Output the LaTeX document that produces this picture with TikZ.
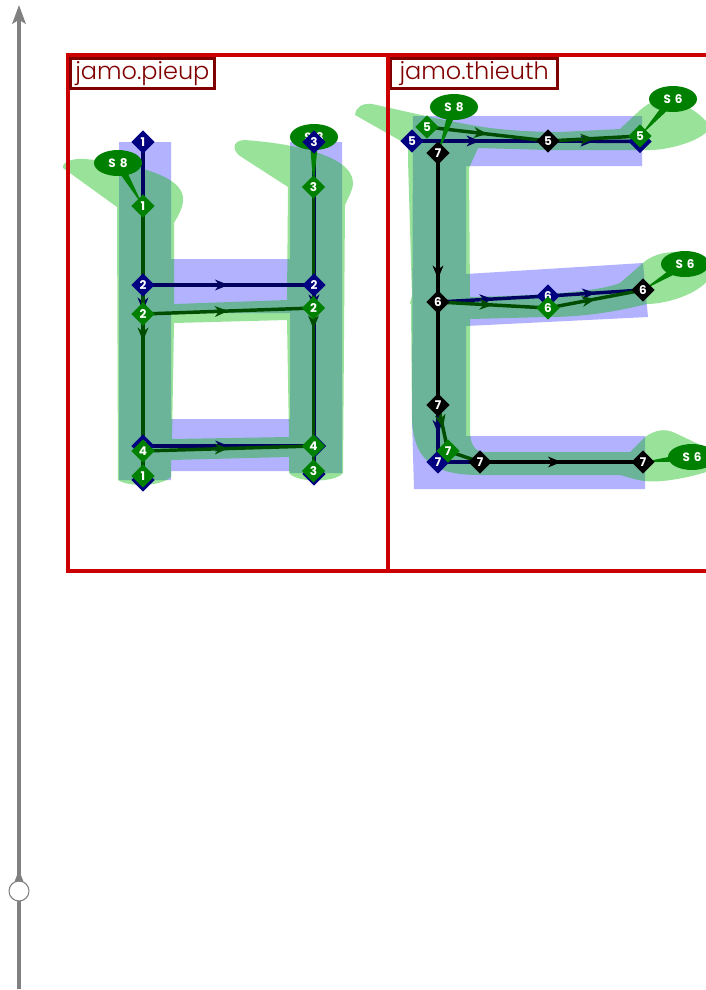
\documentclass[tikz,border=0pt]{standalone}
\usepackage{fontspec}
\setmainfont{Poppins}
\newfontfamily\titlefont{Poppins Light}
\usetikzlibrary{arrows.meta,shapes.geometric,decorations.markings,calc,backgrounds}
\definecolor{frameRed}{HTML}{CC0000}
\definecolor{titleRed}{HTML}{800000}
\definecolor{nodeBlue}{HTML}{000080}
\definecolor{nodeGreen}{HTML}{008000}
\definecolor{edgeBlue}{HTML}{000060}
\definecolor{edgeGreen}{HTML}{004D00}
\definecolor{fillGreen}{HTML}{00B600}
\definecolor{axisGray}{HTML}{808080}
\pgfdeclarelayer{fills}
\pgfdeclarelayer{edges}
\pgfsetlayers{fills,edges,main}
\newcommand{\spur}[2]{\fill[nodeGreen] (#2.center) -- ($(#1)!3.4pt!90:(#2)$) -- ($(#1)!3.4pt!-90:(#2)$) -- cycle;}
\begin{document}
\begin{tikzpicture}[x=.75pt,y=-.75pt,
  dot/.style={diamond,aspect=1,inner sep=0pt,minimum size=17.5pt,text=white,font=\bfseries\fontsize{9pt}{9pt}\selectfont},
  bdot/.style={dot,fill=nodeBlue},
  gdot/.style={dot,fill=nodeGreen},
  kdot/.style={dot,fill=black},
  sbub/.style={ellipse,fill=nodeGreen,inner sep=0pt,minimum width=36pt,minimum height=19.5pt,text=white,font=\bfseries\fontsize{9pt}{9pt}\selectfont\addfontfeature{LetterSpace=12}},
  titlebox/.style={draw=titleRed,line width=2pt,fill=white,text=titleRed,inner sep=0pt,anchor=north west,font=\titlefont\fontsize{18pt}{18pt}\selectfont},
  bfill/.style={fill=blue,fill opacity=.3,even odd rule},
  gfill/.style={fill=fillGreen,fill opacity=.4,even odd rule},
  mid/.style={postaction={decorate,decoration={markings,mark=at position .5 with {\arrow{Stealth[length=10pt,width=8pt,inset=3pt]}}}}},
  bedge/.style={draw=edgeBlue,line width=2.6pt,shorten >=-4pt,shorten <=-4pt},
  gedge/.style={draw=edgeGreen,line width=2.6pt,shorten >=-4pt,shorten <=-4pt},
  kedge/.style={draw=black,line width=2.6pt,shorten >=-4pt,shorten <=-4pt}]
\clip (0,0) rectangle (706,990);
% timeline
\coordinate (axisbot) at (19,989);
\coordinate (axistop) at (19,5);
\draw[axisGray,line width=3.4pt,-{Stealth[length=14pt,width=10pt,inset=3pt]}] (axisbot) -- (axistop);
\node[circle,draw=axisGray,fill=white,line width=.8pt,inner sep=0pt,minimum size=15pt] (marker) at (19,891) {};
\fill[axisGray] (marker.115) -- (marker.65) -- ($(marker.north)+(1.7,-6)$) -- ($(marker.north)+(-1.7,-6)$) -- cycle;
% frames
\begin{pgfonlayer}{edges}
\draw[frameRed,line width=2.6pt] (68,55) rectangle (388,571);
\draw[frameRed,line width=2.6pt] (388,55) rectangle (712,571);
\end{pgfonlayer}
\node[titlebox,minimum width=108pt,minimum height=22.5pt] (pieuptitle) at (69,57) {jamo.pieup};
\node[titlebox,minimum width=125pt,minimum height=22.5pt] (thieuthtitle) at (389.5,57) {jamo.thieuth};
% glyph shapes
\begin{pgfonlayer}{fills}
\path[bfill] (119,142) -- (171,142) -- (171,259) -- (290,259) -- (290,142) -- (342,142) -- (342,473) -- (290,473) -- (290,471) -- (171,471) -- (171,480) -- (119,480) -- cycle
  (171,313) -- (290,313) -- (290,419) -- (171,419) -- cycle;
\path[gfill] (63,168) .. controls (62,162) and (72,158) .. (85,159) .. controls (130,163) and (185,175) .. (183,200) .. controls (183,208) and (178,216) .. (174,223) -- (174,304) -- (287,300) -- (288,187) -- (240,156) .. controls (232,150) and (232,141) .. (244,140) .. controls (290,143) and (353,155) .. (353,183) .. controls (353,190) and (348,198) .. (345,205) -- (343,473) .. controls (335,483) and (297,483) .. (289,473) -- (289,457) -- (171,460) -- (171,477) .. controls (160,487) and (128,487) .. (118,480) -- (117,207) -- cycle
  (174,323) -- (287,320) -- (289,437) -- (172,439) -- cycle;
\path[bfill] (413,116) -- (642,116) -- (642,166) -- (466,166) -- (466,274) -- (643,263) -- (648,317) -- (466,326) -- (466,436) -- (645,436) -- (645,489) -- (414,489) -- (412,420) -- cycle;
\path[gfill] (355,115) .. controls (356,107) and (362,103) .. (372,104) .. controls (400,110) and (440,120) .. (483,127) .. controls (510,131) and (540,132) .. (560,132) -- (620,129) -- (637,113) .. controls (650,100) and (665,95) .. (680,103) .. controls (695,110) and (705,118) .. (710,127) .. controls (705,140) and (670,150) .. (650,150) -- (547,150) -- (478,148) -- (469,168) -- (470,297) .. controls (500,296) and (590,295) .. (620,283) -- (643,263) .. controls (655,252) and (675,250) .. (690,254) .. controls (700,260) and (708,268) .. (712,275) .. controls (700,295) and (665,304) .. (647,304) .. controls (610,313) and (580,317) .. (547,317) -- (470,319) -- (470,430) .. controls (470,445) and (475,452) .. (485,452) -- (630,452) -- (645,437) .. controls (655,430) and (665,428) .. (675,433) .. controls (690,440) and (700,445) .. (712,450) -- (712,470) .. controls (690,478) and (660,483) .. (645,481) .. controls (635,480) and (628,477) .. (620,475) -- (480,475) .. controls (440,475) and (414,465) .. (412,420) -- (411,304) -- (410,303) -- (412,296) -- (408,160) -- (408,145) -- cycle;
\end{pgfonlayer}
% pieup
\node[sbub] (pS) at (118,163) {S 8};
\node[sbub] (pSb) at (314,137) {S 8};
\node[bdot] (pb1) at (143,142) {1};
\node[bdot] (pb2) at (143,285) {2};
\node[bdot] (pb4) at (143,446) {4};
\node[bdot] (pb1b) at (143,480) {1};
\node[bdot] (pb3) at (314,142) {3};
\node[bdot] (pb2r) at (314,285) {2};
\node[bdot] (pb4r) at (314.5,446) {4};
\node[bdot] (pb3b) at (314,474) {3};
\node[gdot] (pg1) at (143,206) {1};
\node[gdot] (pg2) at (143,314) {2};
\node[gdot] (pg4) at (143,451) {4};
\node[gdot] (pg1b) at (143,476) {1};
\node[gdot] (pg3) at (313.5,187) {3};
\node[gdot] (pg2r) at (313.5,308) {2};
\node[gdot] (pg4r) at (313.5,446) {4};
\node[gdot] (pg3b) at (313.5,471) {3};
% thieuth
\node[sbub] (tS) at (454,107) {S 8};
\node[sbub] (tSa) at (673,99) {S 6};
\node[sbub] (tSb) at (685,264) {S 6};
\node[sbub] (tSc) at (692,457) {S 6};
\node[bdot] (tb5) at (412,141) {5};
\node[bdot] (tb5r) at (640,141.5) {5};
\node[bdot] (tb6) at (548,296) {6};
\node[bdot] (tb7) at (438,462) {7};
\node[gdot] (tg5) at (427,127) {5};
\node[gdot] (tg5r) at (640,136) {5};
\node[gdot] (tg6) at (548,308) {6};
\node[gdot] (tg7) at (448,451) {7};
\node[kdot] (tk7) at (438,153) {7};
\node[kdot] (tk5) at (548,141) {5};
\node[kdot] (tk6) at (438,302) {6};
\node[kdot] (tk6r) at (643,290) {6};
\node[kdot] (tk7m) at (438,405) {7};
\node[kdot] (tk7b) at (480,462) {7};
\node[kdot] (tk7r) at (643,462) {7};
\begin{pgfonlayer}{edges}
\path[bedge]
(pb1) edge[mid] (pb1b)
(pb3) edge[mid] (pb3b)
(pb2) edge[mid] (pb2r)
(pb4) edge[mid] (pb4r)
(tb5) edge[mid] (tk5)
(tk5) edge[mid] (tb5r)
(tk6) edge[mid] (tb6)
(tb6) edge[mid] (tk6r)
(tk7m) edge[mid] (tb7)
(tb7) edge (tk7b);
\path[gedge]
(pg1) edge[mid] (pg1b)
(pg3) edge[mid] (pg3b)
(pg2) edge[mid] (pg2r)
(pg4) edge[mid] (pg4r)
(tg5) edge[mid] (tk5)
(tk5) edge[mid] (tg5r)
(tk6) edge[mid] (tg6)
(tg6) edge[mid] (tk6r)
(tk7m) edge[mid] (tg7)
(tg7) edge (tk7b);
\path[kedge]
(tk7) edge[mid] (tk7m)
(tk7b) edge[mid] (tk7r);
\spur{pS}{pg1}
\spur{pSb}{pg3}
\spur{tS}{tk7}
\spur{tSa}{tg5r}
\spur{tSb}{tk6r}
\spur{tSc}{tk7r}
\end{pgfonlayer}
\end{tikzpicture}
\end{document}
